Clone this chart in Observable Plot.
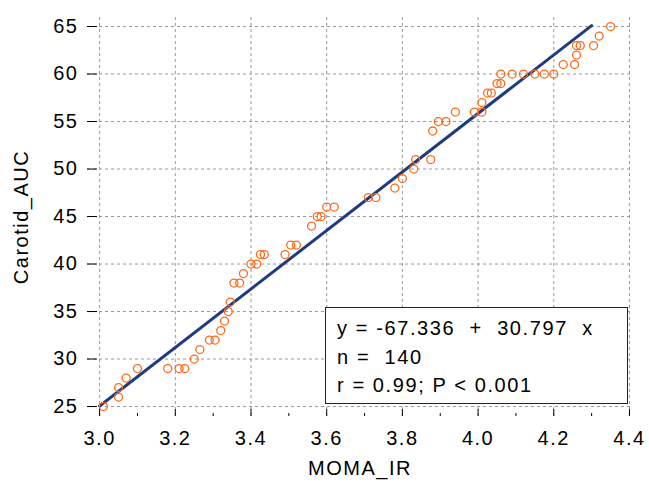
<!DOCTYPE html>
<html><head><meta charset="utf-8">
<script src="https://cdn.jsdelivr.net/npm/d3@7"></script>
<script src="https://cdn.jsdelivr.net/npm/@observablehq/plot@0.6"></script>
<style>
body{margin:0;background:#fff;font-family:"Liberation Sans",Arial,sans-serif;}
#wrap{position:relative;width:649px;height:484px;}
#wrap svg text{letter-spacing:1.5px;}
#legend{position:absolute;left:325px;top:307px;width:303px;height:97px;border:1.5px solid #222;background:#fff;
 font-size:20px;letter-spacing:1.6px;line-height:28.5px;color:#000;white-space:pre;padding:6px 0 0 11px;box-sizing:border-box;}
</style></head>
<body><div id="wrap"><div id="legend">y = -67.336  +  30.797  x
n =  140
r = 0.99; P &lt; 0.001</div></div>
<script>
const momaIR = [3.01,3.05,3.05,3.07,3.10,3.18,3.21,3.225,3.25,3.265,3.29,3.305,3.32,3.33,3.34,3.345,3.355,3.37,3.38,3.40,3.415,3.425,3.435,3.49,3.505,3.52,3.56,3.575,3.585,3.60,3.62,3.71,3.73,3.78,3.80,3.83,3.835,3.875,3.88,3.895,3.915,3.94,3.99,4.01,4.01,4.025,4.035,4.05,4.06,4.06,4.09,4.12,4.15,4.175,4.20,4.225,4.255,4.26,4.26,4.27,4.305,4.32,4.35];
const carotidAUC = [25,26,27,28,29,29,29,29,30,31,32,32,33,34,35,36,38,38,39,40,40,41,41,41,42,42,44,45,45,46,46,47,47,48,49,50,51,51,54,55,55,56,56,56,57,58,58,59,59,60,60,60,60,60,60,61,61,62,63,63,63,64,65];
const intercept = -67.336, slope = 30.797;
const fitX = [3.0, 4.3];
const xTicks = [3.0,3.2,3.4,3.6,3.8,4.0,4.2,4.4];
const xMinor = [3.1,3.3,3.5,3.7,3.9,4.1,4.3];
const yTicks = [25,30,35,40,45,50,55,60,65];

const pts = momaIR.map((x,i)=>({x, y: carotidAUC[i]}));
const fit = fitX.map(x=>({x, y: intercept + slope*x}));

const chart = Plot.plot({
  width: 649, height: 484,
  marginLeft: 87, marginRight: 17, marginTop: 17, marginBottom: 68,
  style: {fontFamily: '"Liberation Sans", Arial, sans-serif', fontSize: "20px", color: "#000", background: "#fff"},
  x: {domain: [2.968, 4.408]},
  y: {domain: [23.95, 65.95]},
  marks: [
    Plot.gridX(xTicks, {stroke: "#999", strokeOpacity: 1, strokeDasharray: "3,3"}),
    Plot.gridY(yTicks, {stroke: "#999", strokeOpacity: 1, strokeDasharray: "3,3"}),
    Plot.axisX(xMinor, {tickSize: -3, tickFormat: () => "", label: null, stroke: "#000"}),
    Plot.axisX(xTicks, {tickSize: -7, tickPadding: 21, tickFormat: d3.format(".1f"), fontSize: 20, stroke: "#000", fill: "#000",
      line: true, label: "MOMA_IR", labelAnchor: "center", labelArrow: "none", labelOffset: 58}),
    Plot.axisY(yTicks, {tickSize: -10, tickPadding: 19, fontSize: 20, stroke: "#000", fill: "#000",
      line: true, label: "Carotid_AUC", labelAnchor: "center", labelArrow: "none", labelOffset: 74}),
    Plot.line(fit, {x: "x", y: "y", stroke: "#1f3c7c", strokeWidth: 3}),
    Plot.dot(pts, {x: "x", y: "y", r: 4, stroke: "#ff6a1a", strokeWidth: 1.3, fill: "none"})
  ]
});
document.getElementById("wrap").prepend(chart);
</script></body></html>
